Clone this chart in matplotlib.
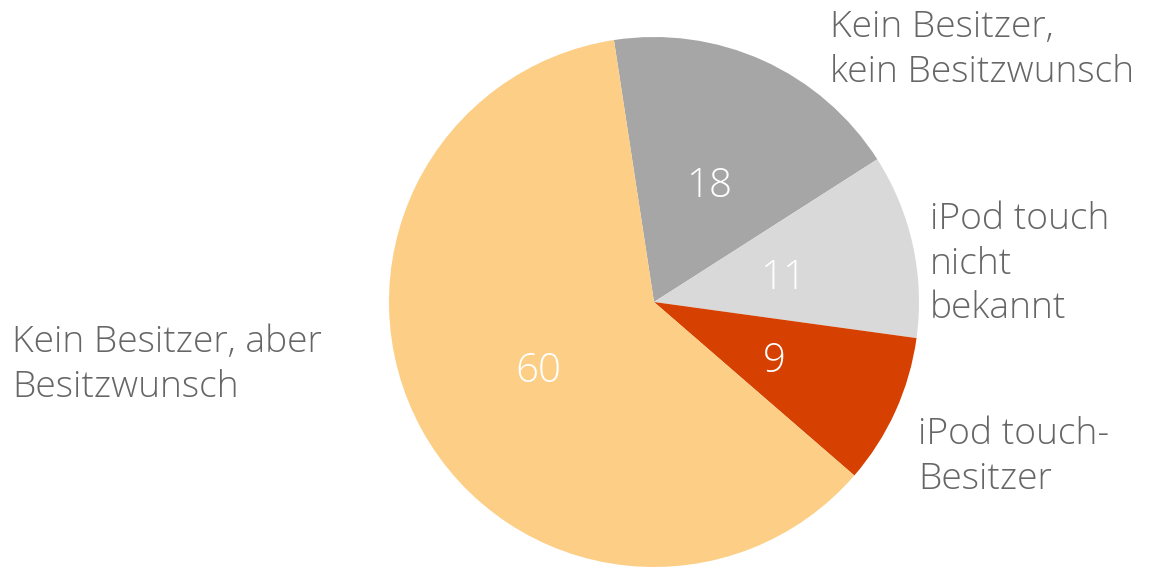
import matplotlib.pyplot as plt

# --- Data ---
categories = ["Kein Besitzer,\nkein Besitzwunsch", "iPod touch\nnicht\nbekannt",
              "iPod touch-\nBesitzer", "Kein Besitzer, aber\nBesitzwunsch"]
values = [18, 11, 9, 60]
colors = ["#a6a6a6", "#d9d9d9", "#d64000", "#fdce86"]

W, H = 1151, 567
total = sum(values)

plt.rcParams['font.family'] = ['Open Sans', 'DejaVu Sans']

fig = plt.figure(figsize=(W / 100, H / 100), dpi=100)
ax = fig.add_axes([0, 0, 1, 1])

# pie centre in pixels (y measured from the bottom)
cx, cy, r = 654, H - 302, 265
wedges, _, autotexts = ax.pie(
    values, colors=colors, startangle=98.7, counterclock=False,
    center=(cx, cy), radius=r, pctdistance=0.5,
    autopct=lambda p: f"{round(p * total / 100)}",
    wedgeprops=dict(linewidth=0), frame=True)
ax.set_xlim(0, W)
ax.set_ylim(0, H)
ax.set_aspect('equal')
ax.axis('off')
for t in autotexts:
    t.set_color("white")
    t.set_fontsize(29)
    t.set_fontweight("light")
    t.set_verticalalignment("center_baseline")

# --- Outside labels ---
label_pos = [(830, 9), (930, 201), (918, 416), (12, 324)]
for text, (x, y) in zip(categories, label_pos):
    ax.text(x, H - y, text, ha='left', va='top', fontsize=26.8,
            color="#666666", fontweight="light", linespacing=1.27)

fig.savefig("out.png", dpi=100)
